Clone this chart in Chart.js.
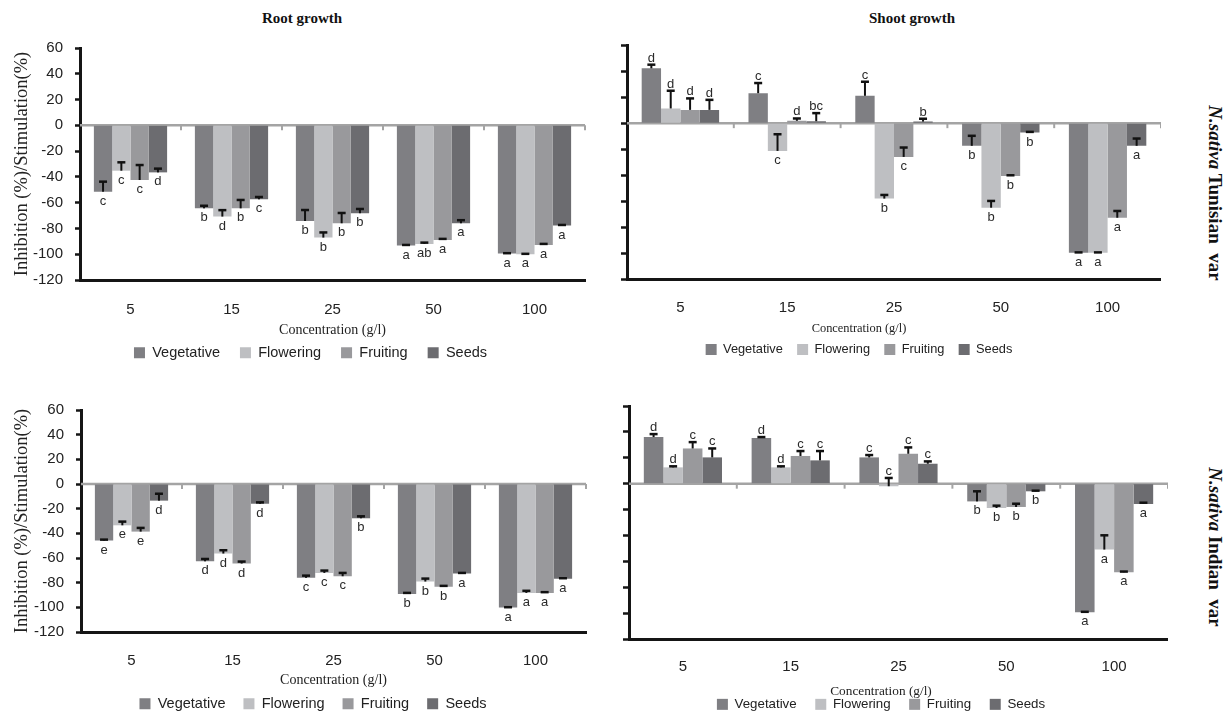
<!DOCTYPE html>
<html><head><meta charset="utf-8">
<script src="https://cdn.jsdelivr.net/npm/chart.js@4/dist/chart.umd.min.js"></script>
<style>
html,body{margin:0;padding:0;background:#fff;}
#wrap{position:relative;width:1230px;height:714px;overflow:hidden;background:#fff;}
canvas{position:absolute;}
.ttl{position:absolute;font:bold 15px 'Liberation Serif',serif;color:#111;transform:translate(-50%,-50%);white-space:nowrap;}
.side{position:absolute;font:bold 19px 'Liberation Serif',serif;color:#111;transform:translate(-50%,-50%) rotate(90deg);white-space:nowrap;}
</style></head>
<body><div id="wrap">
<div class="ttl" style="left:302px;top:18px">Root growth</div>
<div class="ttl" style="left:912px;top:18px">Shoot growth</div>
<div class="side" style="left:1215px;top:193px"><i>N.sativa</i> Tunisian&nbsp; var</div>
<div class="side" style="left:1215px;top:547px"><i>N.sativa</i> Indian&nbsp; var</div>
<canvas id="c1"></canvas><canvas id="c2"></canvas><canvas id="c3"></canvas><canvas id="c4"></canvas>
</div>
<script>
// ---------- data ----------
const categories = ['5', '15', '25', '50', '100'];
const stages = ['Vegetative', 'Flowering', 'Fruiting', 'Seeds'];
const stageColors = ['#7f7f83', '#bebfc2', '#99999c', '#6c6c70'];
const yMin = -120, yMax = 60, yStep = 20;
const axisTitleY = 'Inhibition (%)/Stimulation(%)';
const axisTitleX = 'Concentration (g/l)';

// Root growth, N. sativa Tunisian var  (rows: Vegetative, Flowering, Fruiting, Seeds)
const rootTunisianValues = [
  [-51.5, -64.4, -74.2, -93.3, -99.5],
  [-35.2, -70.8, -87.1, -92.0, -100.0],
  [-42.4, -64.4, -76.0, -88.9, -92.8],
  [-36.5, -57.4, -68.2, -76.0, -77.8]
];
const rootTunisianErrors = [
  [7.8, 2.0, 8.5, 0.5, 0.3],
  [6.5, 5.0, 4.0, 1.0, 0.3],
  [11.6, 6.5, 8.0, 0.8, 0.8],
  [2.9, 1.8, 3.3, 2.4, 0.5]
];
const rootTunisianLetters = [
  ['c', 'b', 'b', 'a', 'a'],
  ['c', 'd', 'b', 'ab', 'a'],
  ['c', 'b', 'b', 'a', 'a'],
  ['d', 'c', 'b', 'a', 'a']
];

// Shoot growth, N. sativa Tunisian var
const shootTunisianValues = [
  [42.1, 23.0, 21.0, -17.4, -99.5],
  [11.3, -21.3, -57.9, -64.9, -99.5],
  [10.2, 1.8, -25.9, -40.5, -72.6],
  [10.2, 1.5, 1.2, -7.2, -17.4]
];
const shootTunisianErrors = [
  [2.8, 7.8, 10.8, 7.7, 0.3],
  [13.6, 12.8, 2.8, 5.2, 0.3],
  [8.8, 1.8, 7.2, 0.5, 5.2],
  [7.7, 6.2, 2.2, 0.5, 5.6]
];
const shootTunisianLetters = [
  ['d', 'c', 'c', 'b', 'a'],
  ['d', 'c', 'b', 'b', 'a'],
  ['d', 'd', 'c', 'b', 'a'],
  ['d', 'bc', 'b', 'b', 'a']
];

// Root growth, N. sativa Indian var
const rootIndianValues = [
  [-45.9, -62.7, -76.1, -89.1, -100.2],
  [-33.5, -56.4, -72.1, -79.1, -88.3],
  [-38.6, -64.5, -74.8, -83.4, -88.3],
  [-13.5, -16.0, -27.8, -72.6, -76.9]
];
const rootIndianErrors = [
  [0.8, 1.9, 1.8, 0.8, 0.3],
  [3.0, 2.7, 1.9, 2.4, 1.7],
  [3.0, 1.6, 2.7, 0.8, 0.6],
  [5.6, 1.1, 1.6, 0.5, 0.5]
];
const rootIndianLetters = [
  ['e', 'd', 'c', 'b', 'a'],
  ['e', 'd', 'c', 'b', 'a'],
  ['e', 'd', 'c', 'b', 'a'],
  ['d', 'd', 'b', 'a', 'a']
];

// Shoot growth, N. sativa Indian var
const shootIndianValues = [
  [36.0, 35.3, 20.3, -13.7, -99.3],
  [12.6, 12.6, -2.0, -18.8, -50.9],
  [27.2, 21.4, 23.1, -18.0, -68.4],
  [20.3, 18.0, 15.4, -5.9, -15.7]
];
const shootIndianErrors = [
  [2.3, 0.7, 1.8, 7.8, 0.3],
  [0.8, 0.8, 6.4, 1.8, 11.0],
  [4.9, 3.8, 4.9, 2.5, 0.5],
  [6.9, 7.2, 1.8, 0.5, 1.0]
];
const shootIndianLetters = [
  ['d', 'd', 'c', 'b', 'a'],
  ['d', 'd', 'c', 'b', 'a'],
  ['c', 'c', 'c', 'b', 'a'],
  ['c', 'c', 'c', 'b', 'a']
];

// ---------- plugin: zero line, category ticks, error bars, letters ----------
const decorPlugin = {
  id: 'decor',
  beforeDatasetsDraw(chart) {
    const {ctx, chartArea: a, scales: {x, y}} = chart;
    const y0 = y.getPixelForValue(0);
    ctx.save();
    ctx.strokeStyle = '#a4a4a4';
    ctx.lineWidth = 2.5;
    ctx.beginPath(); ctx.moveTo(a.left, y0); ctx.lineTo(a.right, y0); ctx.stroke();
    ctx.lineWidth = 2;
    for (let i = 1; i <= categories.length; i++) {
      const px = x.getPixelForValue(i - 0.5);
      ctx.beginPath(); ctx.moveTo(px, y0); ctx.lineTo(px, y0 + 5); ctx.stroke();
    }
    ctx.restore();
  },
  afterDatasetsDraw(chart) {
    const {ctx, scales: {y}} = chart;
    ctx.save();
    chart.data.datasets.forEach((ds, d) => {
      const meta = chart.getDatasetMeta(d);
      meta.data.forEach((bar, i) => {
        const v = ds.data[i], e = ds.errors[i];
        const yEnd = y.getPixelForValue(v);
        const yCap = y.getPixelForValue(v + e);
        ctx.strokeStyle = '#111';
        ctx.lineWidth = 2;
        ctx.beginPath(); ctx.moveTo(bar.x, yEnd); ctx.lineTo(bar.x, yCap); ctx.stroke();
        ctx.lineWidth = 2.5;
        ctx.beginPath(); ctx.moveTo(bar.x - 4, yCap); ctx.lineTo(bar.x + 4, yCap); ctx.stroke();
        ctx.fillStyle = '#2a2a2a';
        ctx.font = '13px "Liberation Sans", Arial, sans-serif';
        ctx.textAlign = 'center';
        if (v + e > 0) {
          ctx.textBaseline = 'alphabetic';
          ctx.fillText(ds.letters[i], bar.x, yCap - 3);
        } else {
          ctx.textBaseline = 'top';
          ctx.fillText(ds.letters[i], bar.x, yEnd + 3);
        }
      });
    });
    ctx.restore();
  }
};

// ---------- panel builder ----------
function buildPanel(id, box, area, values, errors, letters, o) {
  const cv = document.getElementById(id);
  cv.width = box.w; cv.height = box.h;
  cv.style.left = box.x + 'px'; cv.style.top = box.y + 'px';
  cv.style.width = box.w + 'px'; cv.style.height = box.h + 'px';
  const lt = o.legendTitle ? (o.ltSize * 1.2 + o.ltPadTop + o.ltPadBottom) : 0;
  const legendH = lt + o.legendSize + o.legendPad + 10;
  const xH = box.y + box.h - legendH - area.bottom;
  const yW = area.left - box.x;
  const rightW = box.x + box.w - area.right;

  const datasets = stages.map((s, k) => ({
    label: s,
    data: values[k],
    errors: errors[k],
    letters: letters[k],
    backgroundColor: stageColors[k],
    borderWidth: 0,
    barPercentage: 1,
    categoryPercentage: 0.725
  }));

  const scales = {
    x: {
      type: 'category',
      position: 'bottom',
      grid: {display: false, drawTicks: false},
      border: {display: true, color: '#151515', width: 3},
      ticks: {autoSkip: false, maxRotation: 0, padding: o.xTickPad,
              font: {family: 'Liberation Sans', size: 15}, color: '#222'},
      title: {display: !o.legendTitle, text: axisTitleX,
              font: {family: 'Liberation Serif', size: 14}, color: '#222',
              padding: {top: 0, bottom: o.xTitlePadBottom || 0}},
      afterFit(s) { s.height = xH; }
    },
    y: {
      position: 'left',
      min: yMin, max: yMax,
      grid: {display: true, drawOnChartArea: false, drawTicks: true,
             tickLength: o.showLabels ? 5 : 6, tickWidth: 2.5, tickColor: '#151515'},
      border: {display: true, color: '#151515', width: 3},
      ticks: {display: o.showLabels, stepSize: yStep, padding: 12,
              font: {family: 'Liberation Sans', size: 15}, color: '#222'},
      title: {display: o.showLabels, text: axisTitleY,
              font: {family: 'Liberation Serif', size: 18.5}, color: '#222',
              padding: {top: 11, bottom: 0}},
      afterFit(s) { s.width = yW; }
    }
  };
  if (rightW > 0) {
    scales.y2 = {
      position: 'right', display: true,
      grid: {display: false, drawTicks: false},
      border: {display: false},
      ticks: {display: false},
      afterFit(s) { s.width = rightW; }
    };
  }

  return new Chart(cv, {
    type: 'bar',
    data: {labels: categories, datasets},
    plugins: [decorPlugin],
    options: {
      responsive: false,
      animation: false,
      devicePixelRatio: 1,
      layout: {padding: {top: area.top - box.y, left: 0, right: 0, bottom: 0}},
      scales,
      plugins: {
        tooltip: {enabled: false},
        title: {display: false},
        legend: {
          display: true,
          position: 'bottom',
          labels: {boxWidth: 11, boxHeight: 11, padding: o.legendPad,
                   font: {family: 'Liberation Sans', size: o.legendSize}, color: '#222'},
          title: {display: !!o.legendTitle, text: axisTitleX, position: 'center',
                  font: {family: 'Liberation Serif', size: o.ltSize || 13}, color: '#222',
                  padding: {top: o.ltPadTop || 0, bottom: o.ltPadBottom || 0}}
        }
      }
    }
  });
}

buildPanel('c1', {x: 0, y: 0, w: 621, h: 370}, {left: 80, top: 48, right: 585, bottom: 280},
  rootTunisianValues, rootTunisianErrors, rootTunisianLetters,
  {showLabels: true, legendSize: 14.5, legendPad: 20, xTickPad: 21, xTitlePadBottom: -12.9});

buildPanel('c2', {x: 557, y: 0, w: 604, h: 366}, {left: 627, top: 45, right: 1161, bottom: 279.5},
  shootTunisianValues, shootTunisianErrors, shootTunisianLetters,
  {showLabels: false, legendSize: 12.8, legendPad: 14.3, xTickPad: 19.8,
   legendTitle: true, ltSize: 12.4, ltPadTop: 0, ltPadBottom: -8.7});

buildPanel('c3', {x: 0, y: 370, w: 626, h: 351}, {left: 81, top: 410, right: 586, bottom: 632},
  rootIndianValues, rootIndianErrors, rootIndianLetters,
  {showLabels: true, legendSize: 14.5, legendPad: 18, xTickPad: 19.7, xTitlePadBottom: -9.9});

buildPanel('c4', {x: 594, y: 370, w: 574, h: 351}, {left: 629, top: 406, right: 1168, bottom: 639},
  shootIndianValues, shootIndianErrors, shootIndianLetters,
  {showLabels: false, legendSize: 13.3, legendPad: 18.6, xTickPad: 19,
   legendTitle: true, ltSize: 13.3, ltPadTop: 0, ltPadBottom: -21.9});
</script>
</body></html>
